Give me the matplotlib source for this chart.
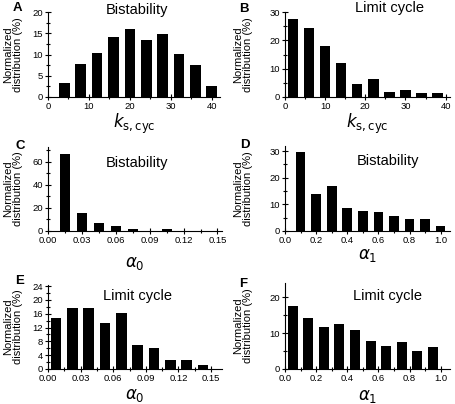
import matplotlib
matplotlib.use('agg')
import matplotlib.pyplot as plt
from matplotlib.ticker import MultipleLocator

plt.rcParams['font.family'] = ['Liberation Sans', 'DejaVu Sans']

# data
ks_bist_x = [4, 8, 12, 16, 20, 24, 28, 32, 36, 40]
ks_bist_y = [3.4, 7.8, 10.3, 14.2, 16.0, 13.4, 14.8, 10.1, 7.6, 2.6]

ks_lc_x = [2, 6, 10, 14, 18, 22, 26, 30, 34, 38]
ks_lc_y = [27.5, 24.2, 18.1, 12.0, 4.7, 6.5, 1.8, 2.3, 1.5, 1.4]

a0_bist_x = [0.015, 0.03, 0.045, 0.06, 0.075, 0.105, 0.12]
a0_bist_y = [67.0, 16.0, 7.0, 4.5, 2.0, 1.5, 0.3]

a1_bist_x = [0.1, 0.2, 0.3, 0.4, 0.5, 0.6, 0.7, 0.8, 0.9, 1.0]
a1_bist_y = [29.5, 13.9, 16.8, 8.6, 7.5, 7.0, 5.7, 4.6, 4.6, 1.7]

a0_lc_x = [0.0075, 0.0225, 0.0375, 0.0525, 0.0675, 0.0825, 0.0975, 0.1125, 0.1275, 0.1425]
a0_lc_y = [14.8, 17.7, 17.7, 13.4, 16.3, 6.9, 6.0, 2.7, 2.7, 1.3]

a1_lc_x = [0.05, 0.15, 0.25, 0.35, 0.45, 0.55, 0.65, 0.75, 0.85, 0.95]
a1_lc_y = [17.6, 14.3, 11.6, 12.5, 10.7, 7.8, 6.5, 7.4, 5.1, 6.0]

W, H = 456, 404
fig = plt.figure(figsize=(W / 100, H / 100), dpi=100)


def make_ax(l, r, t, b):
    return fig.add_axes([l / W, 1 - b / H, (r - l) / W, (b - t) / H])


panels = [
    # letter, x, y, bar width, xlim, ylim, x major/minor, y major/minor, xlabel, title,
    # title pos, axes box (px), letter pos (px), ylabel right edge (px), tick format, xlabel pad
    ('A', ks_bist_x, ks_bist_y, 2.6, (0, 42), (0, 20), 10, 5, 5, 2.5, r'$k_{\rm s,cyc}$', 'Bistability',
     (0.516, 1.02), (48, 220, 12, 97), (17, 8), 23, '{:.0f}', 1),
    ('B', ks_lc_x, ks_lc_y, 2.6, (0, 41.1), (0, 30), 10, 5, 10, 5, r'$k_{\rm s,cyc}$', 'Limit cycle',
     (0.634, 1.043), (285, 450, 12, 97), (244, 9), 253, '{:.0f}', 1),
    ('C', a0_bist_x, a0_bist_y, 0.009, (0, 0.154), (0, 73), 0.03, 0.015, 20, 10, r'$\alpha_0$', 'Bistability',
     (0.51, 0.806), (48, 222, 147, 231), (20.5, 146), 23, '{:.2f}', 7),
    ('D', a1_bist_x, a1_bist_y, 0.062, (0, 1.06), (0, 31.9), 0.2, 0.1, 10, 5, r'$\alpha_1$', 'Bistability',
     (0.626, 0.822), (285, 450, 146, 231), (244.5, 145), 253, '{:.1f}', 1.5),
    ('E', a0_lc_x, a0_lc_y, 0.0098, (0, 0.16), (0, 24.3), 0.03, 0.015, 4, 2, r'$\alpha_0$', 'Limit cycle',
     (0.517, 0.871), (48, 222, 285, 369), (19.5, 281), 23, '{:.2f}', 3),
    ('F', a1_lc_x, a1_lc_y, 0.064, (0, 1.06), (0, 23.9), 0.2, 0.1, 10, 5, r'$\alpha_1$', 'Limit cycle',
     (0.62, 0.844), (285, 450, 283, 369), (243.5, 284), 253, '{:.1f}', 4),
]

for (letter, xs, ys, w, xlim, ylim, xmaj, xmin, ymaj, ymin, xlab, title,
     tpos, box, lpos, ylx, xfmt, xpad) in panels:
    ax = make_ax(*box)
    ax.bar(xs, ys, width=w, color='black')
    ax.set_xlim(*xlim)
    ax.set_ylim(*ylim)
    ax.xaxis.set_major_locator(MultipleLocator(xmaj))
    ax.xaxis.set_minor_locator(MultipleLocator(xmin))
    ax.yaxis.set_major_locator(MultipleLocator(ymaj))
    ax.yaxis.set_minor_locator(MultipleLocator(ymin))
    ax.xaxis.set_major_formatter(plt.FuncFormatter(lambda v, p, f=xfmt: f.format(v)))
    for s in ['top', 'right']:
        ax.spines[s].set_visible(False)
    for s in ['left', 'bottom']:
        ax.spines[s].set_linewidth(0.8)
    ax.tick_params(which='major', direction='inout', length=4, width=0.8, labelsize=6.8, pad=1.5)
    ax.tick_params(which='minor', direction='inout', length=2.5, width=0.8)
    ax.set_xlabel(xlab, fontsize=12, labelpad=xpad)
    ax.set_ylabel('Normalized\ndistribution (%)', fontsize=8, linespacing=0.95)
    ax.yaxis.set_label_coords((ylx - box[0]) / (box[1] - box[0]), 0.5)
    ax.text(tpos[0], tpos[1], title, transform=ax.transAxes, ha='center', va='center', fontsize=10.5)
    fig.text(lpos[0] / W, 1 - lpos[1] / H, letter, ha='center', va='center',
             fontsize=9.5, fontweight='bold')

plt.savefig('out.png', dpi=100)
